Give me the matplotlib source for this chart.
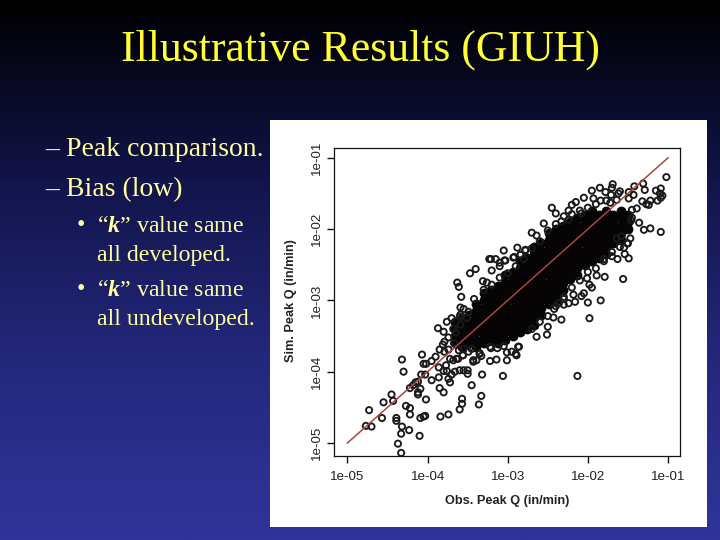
import numpy as np
import matplotlib
matplotlib.use("Agg")
import matplotlib.pyplot as plt
from matplotlib.patches import Rectangle
from matplotlib.colors import LinearSegmentedColormap

plt.rcParams['font.family'] = ['Liberation Serif', 'DejaVu Sans']
plt.rcParams['mathtext.fontset'] = 'custom'
plt.rcParams['mathtext.bfit'] = 'Liberation Serif:italic:bold'
plt.rcParams['mathtext.rm'] = 'Liberation Serif'

title = "Illustrative Results (GIUH)"
dash_items = ["– Peak comparison.", "– Bias (low)"]
x_label = "Obs. Peak Q (in/min)"
y_label = "Sim. Peak Q (in/min)"
tick_exps = [-5, -4, -3, -2, -1]
tick_labels = ["1e-05", "1e-04", "1e-03", "1e-02", "1e-01"]
line_log = [-5.0, -1.0]

# dense cloud: log10 observed per column, log10 simulated values in that column
core_col_x = [-3.66, -3.57, -3.48, -3.39, -3.30, -3.21, -3.12, -3.03, -2.94, -2.85,
              -2.76, -2.67, -2.58, -2.49, -2.40, -2.31, -2.22, -2.13, -2.04, -1.95,
              -1.86, -1.77, -1.68, -1.59, -1.50]
core_col_y = [
    [-3.60, -3.50, -3.40, -3.30],
    [-3.65, -3.55, -3.45, -3.35, -3.25],
    [-3.60, -3.50, -3.40, -3.30, -3.20],
    [-3.65, -3.55, -3.45, -3.35, -3.25, -3.15, -3.05],
    [-3.60, -3.50, -3.40, -3.30, -3.20, -3.10, -3.00, -2.90],
    [-3.55, -3.45, -3.35, -3.25, -3.15, -3.05, -2.95, -2.85],
    [-3.60, -3.50, -3.40, -3.30, -3.20, -3.10, -3.00, -2.90, -2.80],
    [-3.55, -3.45, -3.35, -3.25, -3.15, -3.05, -2.95, -2.85, -2.75, -2.65],
    [-3.50, -3.40, -3.30, -3.20, -3.10, -3.00, -2.90, -2.80, -2.70, -2.60],
    [-3.45, -3.35, -3.25, -3.15, -3.05, -2.95, -2.85, -2.75, -2.65, -2.55, -2.45],
    [-3.40, -3.30, -3.20, -3.10, -3.00, -2.90, -2.80, -2.70, -2.60, -2.50, -2.40],
    [-3.35, -3.25, -3.15, -3.05, -2.95, -2.85, -2.75, -2.65, -2.55, -2.45, -2.35, -2.25],
    [-3.20, -3.10, -3.00, -2.90, -2.80, -2.70, -2.60, -2.50, -2.40, -2.30, -2.20],
    [-3.05, -2.95, -2.85, -2.75, -2.65, -2.55, -2.45, -2.35, -2.25, -2.15, -2.05],
    [-3.00, -2.90, -2.80, -2.70, -2.60, -2.50, -2.40, -2.30, -2.20, -2.10, -2.00],
    [-2.85, -2.75, -2.65, -2.55, -2.45, -2.35, -2.25, -2.15, -2.05, -1.95],
    [-2.70, -2.60, -2.50, -2.40, -2.30, -2.20, -2.10, -2.00, -1.90],
    [-2.65, -2.55, -2.45, -2.35, -2.25, -2.15, -2.05, -1.95, -1.85],
    [-2.50, -2.40, -2.30, -2.20, -2.10, -2.00, -1.90, -1.80],
    [-2.45, -2.35, -2.25, -2.15, -2.05, -1.95, -1.85, -1.75],
    [-2.40, -2.30, -2.20, -2.10, -2.00, -1.90, -1.80],
    [-2.35, -2.25, -2.15, -2.05, -1.95, -1.85, -1.75],
    [-2.20, -2.10, -2.00, -1.90, -1.80],
    [-2.15, -2.05, -1.95, -1.85, -1.75],
    [-2.00, -1.90, -1.80],
]

# individually readable open circles, log10 observed
ring_x = [-4.32, -4.30, -4.73, -4.77, -4.70, -4.57, -4.55, -4.45, -4.43, -4.39, -4.39, -4.32, -4.33,
          -4.37, -4.33, -4.23, -4.10, -4.22, -4.27, -4.22, -4.09, -4.05, -4.03, -4.02, -4.12, -4.12,
          -4.09, -4.22, -4.18, -4.15, -4.12, -4.08, -4.03, -4.07, -4.05, -4.02, -3.95, -3.90, -3.87,
          -3.80, -3.68, -3.65, -3.74, -3.79, -3.81, -3.67, -3.85, -3.79, -3.74, -3.86, -3.77, -3.95,
          -3.86, -3.80, -3.76, -3.70, -3.74, -3.72, -3.85, -3.80, -3.45, -3.32, -3.06, -3.57, -3.57,
          -3.60, -3.33, -3.36, -3.74, -3.84, -3.68, -3.62, -3.56, -3.49, -3.43, -3.39, -3.55, -3.50,
          -3.50, -3.60, -3.66, -3.72, -3.61, -3.55, -3.45, -3.35, -3.33, -3.22, -3.14, -3.01, -3.01,
          -2.89, -2.95, -2.86, -3.21, -3.13, -3.05, -2.13, -1.02, -1.69, -1.42, -1.31, -1.29, -1.15,
          -1.09, -1.10, -1.07, -1.09, -1.78, -1.71, -1.62, -1.49, -1.93, -1.84, -1.77, -1.72, -1.64,
          -1.49, -1.43, -1.32, -1.27, -1.22, -1.13, -1.24, -2.24, -2.08, -2.33, -2.24, -1.39, -1.45,
          -1.46, -1.36, -1.22, -1.30, -1.09, -2.64, -2.78, -2.92, -3.03, -2.84, -1.64, -1.58, -1.47,
          -1.51, -1.54, -1.49, -1.63, -1.80, -1.79, -1.56, -1.89, -2.01, -1.98, -1.95, -2.05, -2.08,
          -2.00, -1.84, -2.16, -2.24, -2.30, -2.43, -2.33, -1.98, -3.40, -3.47, -3.63, -3.61, -3.58,
          -3.59, -3.55, -3.49, -3.31, -3.26, -3.23, -3.60, -3.42, -3.70, -3.76, -3.64, -3.15, -3.05,
          -2.70, -2.60, -2.50, -2.42, -2.36, -2.30, -2.18, -2.70, -2.55, -2.40, -2.88, -3.10, -3.20,
          -2.15, -2.05, -1.95, -1.85, -1.70, -1.60, -2.45, -2.20, -1.70, -1.55, -1.45,
          -3.21, -3.10, -3.04, -2.93, -2.84, -2.78, -3.59, -3.59, -3.51, -2.50, -2.51, -2.87, -2.64,
          -2.90, -3.22, -3.35, -3.43, -3.56, -2.70, -2.60, -2.50, -2.40, -2.30, -2.20, -2.10, -2.00,
          -1.90, -2.40, -2.30, -2.20, -2.10, -2.00, -1.90, -1.80, -1.70, -1.60, -1.50, -3.30, -3.20,
          -3.10, -3.00, -2.90, -2.80]
ring_y = [-3.83, -4.00, -4.54, -4.76, -4.77, -4.65, -4.43, -4.32, -4.41, -4.65, -4.69, -4.77, -4.87,
          -5.01, -5.14, -4.82, -4.90, -4.60, -4.48, -4.51, -4.65, -4.63, -4.62, -4.39, -4.32, -4.29,
          -4.24, -4.23, -4.19, -4.15, -4.14, -4.04, -4.04, -3.76, -3.89, -3.89, -3.85, -3.79, -3.39,
          -3.44, -3.40, -3.45, -3.52, -3.58, -3.62, -3.60, -3.69, -3.72, -3.69, -3.94, -3.91, -4.12,
          -4.08, -3.99, -3.99, -4.04, -4.10, -4.15, -4.23, -4.29, -4.19, -4.04, -4.06, -4.38, -4.45,
          -4.53, -4.34, -4.46, -4.60, -4.63, -3.84, -3.82, -3.77, -3.72, -3.84, -3.84, -3.98, -3.98,
          -4.03, -3.98, -4.00, -3.82, -3.70, -3.68, -3.68, -3.75, -3.78, -3.85, -3.83, -3.84, -3.73,
          -3.77, -3.72, -3.65, -3.67, -3.67, -3.64, -4.06, -1.27, -1.37, -1.40, -1.36, -1.45, -1.46,
          -1.43, -1.50, -1.53, -1.56, -1.48, -1.52, -1.50, -1.48, -1.57, -1.60, -1.60, -1.63, -1.59,
          -1.57, -1.52, -1.61, -1.65, -1.60, -1.60, -1.66, -1.74, -1.78, -1.89, -1.87, -1.71, -1.73,
          -1.88, -1.91, -1.99, -2.01, -2.04, -2.09, -2.29, -2.39, -2.44, -2.36, -2.13, -2.10, -2.13,
          -2.20, -2.35, -2.41, -2.42, -2.42, -2.67, -2.70, -2.65, -2.69, -2.78, -2.82, -2.90, -2.94,
          -3.03, -3.00, -3.02, -3.04, -3.06, -3.24, -3.27, -3.25, -2.56, -2.62, -2.75, -2.81, -2.95,
          -3.10, -3.12, -3.16, -2.73, -2.75, -2.42, -3.23, -2.98, -3.25, -3.30, -3.82, -2.42, -2.30,
          -3.40, -3.30, -3.22, -3.12, -3.04, -2.98, -2.92, -2.05, -1.92, -1.78, -2.26, -2.52, -2.58,
          -1.62, -1.56, -1.46, -1.42, -1.42, -1.47, -1.70, -1.66, -2.32, -2.26, -1.84,
          -2.42, -2.47, -2.44, -2.40, -2.36, -2.30, -3.20, -3.34, -3.25, -3.37, -3.48, -3.65, -3.51,
          -3.75, -3.65, -3.74, -3.86, -3.77, -2.27, -2.17, -2.02, -1.93, -1.82, -1.79, -1.74, -1.70,
          -1.65, -3.08, -2.95, -2.82, -2.72, -2.60, -2.55, -2.45, -2.38, -2.25, -2.20, -2.85, -2.78,
          -2.68, -2.62, -2.52, -2.42]

core_x = [x for x, ys in zip(core_col_x, core_col_y) for _ in ys]
core_y = [y for ys in core_col_y for y in ys]

W, H = 720, 540
fig = plt.figure(figsize=(W / 100, H / 100), dpi=100)

# slide background
bg = fig.add_axes([0, 0, 1, 1], zorder=0)
cmap = LinearSegmentedColormap.from_list("slide", ["#000000", "#12144a", "#24287c", "#30349a"])
bg.imshow(np.linspace(0, 1, 256).reshape(-1, 1), aspect="auto", cmap=cmap, extent=[0, 1, 0, 1])
bg.set_xlim(0, 1)
bg.set_ylim(0, 1)
bg.axis("off")

bg.text(360 / W, 1 - 50 / H, title, color="#ffff33", fontsize=31.6, ha="center", va="center")
for txt, py in zip(dash_items, [150, 190]):
    bg.text(45 / W, 1 - py / H, txt, color="#ffffa0", fontsize=20, ha="left", va="center")
bullet_rows = [("•", "“$\\mathbfit{k}$” value same", 226), (None, "all developed.", 255),
               ("•", "“$\\mathbfit{k}$” value same", 290), (None, "all undeveloped.", 319)]
for b, txt, py in bullet_rows:
    if b:
        bg.text(77 / W, 1 - py / H, b, color="#ffffa0", fontsize=17.2, ha="left", va="center")
    bg.text(97 / W, 1 - py / H, txt, color="#ffffa0", fontsize=17.2, ha="left", va="center")

bg.add_patch(Rectangle((270 / W, 1 - 527 / H), 437 / W, 407 / H, facecolor="white", edgecolor="none",
                       transform=bg.transAxes))

# plot
ax = fig.add_axes([334 / W, 1 - 456 / H, 346 / W, 308 / H], zorder=2)
ax.patch.set_alpha(0)
ax.set_xscale("log")
ax.set_yscale("log")
ax.set_xlim(10 ** -5.168, 10 ** -0.85)
ax.set_ylim(10 ** -5.183, 10 ** -0.862)
ax.scatter(10.0 ** np.array(core_x), 10.0 ** np.array(core_y), s=50, c="#060404", linewidths=0, zorder=2)
ax.scatter(10.0 ** np.array(ring_x), 10.0 ** np.array(ring_y), s=20, facecolors="none",
           edgecolors="#1a1a1a", linewidths=1.35, zorder=3)
ax.plot(10.0 ** np.array(line_log), 10.0 ** np.array(line_log), color="#a8463f", lw=1.1, zorder=4)

ticks = [10.0 ** e for e in tick_exps]
ax.set_xticks(ticks)
ax.set_xticklabels(tick_labels)
ax.set_yticks(ticks)
ax.set_yticklabels(tick_labels, rotation=90, va="center")
ax.minorticks_off()
ax.tick_params(axis="x", length=5, width=1, color="#111111", labelsize=9.6, pad=6, labelcolor="#222222")
ax.tick_params(axis="y", length=5, width=1, color="#111111", labelsize=9.6, pad=3, labelcolor="#222222")
for lab in ax.get_xticklabels() + ax.get_yticklabels():
    lab.set_family("Liberation Sans")
for s in ax.spines.values():
    s.set_linewidth(0.9)
    s.set_color("#111111")

bg.text(507 / W, 1 - 501 / H, x_label, family="Liberation Sans", fontsize=9.2,
        color="#222222", ha="center", va="center", fontweight="bold")
bg.text(291 / W, 1 - 301 / H, y_label, family="Liberation Sans", fontsize=9.2,
        color="#222222", ha="center", va="center", rotation=90, fontweight="bold")

fig.savefig("out.png", dpi=100)
